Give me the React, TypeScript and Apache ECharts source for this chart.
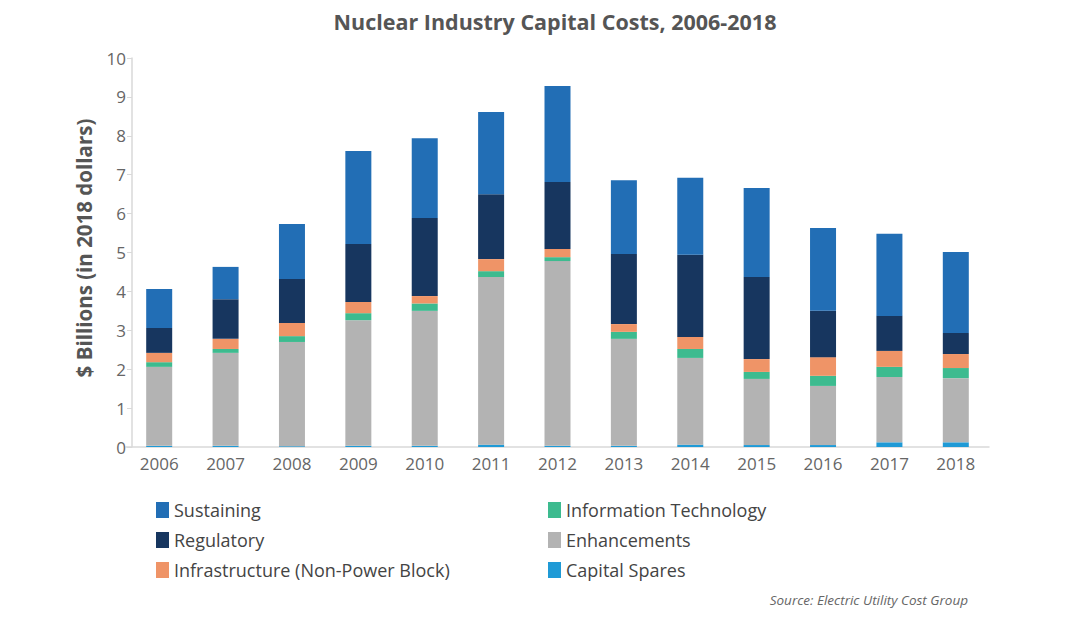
import React, { useEffect, useRef } from "react";
import * as echarts from "echarts";

const years = ["2006", "2007", "2008", "2009", "2010", "2011", "2012", "2013", "2014", "2015", "2016", "2017", "2018"];
const capitalSpares = [0.03, 0.03, 0.02, 0.03, 0.03, 0.06, 0.03, 0.03, 0.06, 0.05, 0.05, 0.12, 0.12];
const enhancements = [2.03, 2.39, 2.68, 3.23, 3.47, 4.31, 4.75, 2.75, 2.23, 1.70, 1.52, 1.68, 1.65];
const infoTech = [0.12, 0.10, 0.15, 0.18, 0.19, 0.15, 0.10, 0.18, 0.23, 0.18, 0.26, 0.26, 0.26];
const infrastructure = [0.24, 0.26, 0.34, 0.29, 0.19, 0.31, 0.21, 0.20, 0.31, 0.33, 0.48, 0.41, 0.36];
const regulatory = [0.64, 1.02, 1.13, 1.49, 2.01, 1.67, 1.72, 1.80, 2.11, 2.11, 1.19, 0.90, 0.54];
const sustaining = [1.00, 0.83, 1.41, 2.39, 2.05, 2.11, 2.47, 1.90, 1.98, 2.29, 2.13, 2.11, 2.08];

const FONT = "'Open Sans', sans-serif";

export default function App() {
  const ref = useRef<HTMLDivElement>(null);
  useEffect(() => {
    if (!ref.current) return;
    const chart = echarts.init(ref.current, null, { renderer: "svg" });
    const mk = (name: string, data: number[], color: string) => ({
      name,
      type: "bar",
      stack: "total",
      data,
      barWidth: 26,
      itemStyle: { color },
      emphasis: { disabled: true },
    });
    const legendText = { fontFamily: FONT, fontSize: 18, color: "#444" };
    chart.setOption({
      animation: false,
      backgroundColor: "#fff",
      textStyle: { fontFamily: FONT },
      title: {
        text: "Nuclear Industry Capital Costs, 2006-2018",
        left: 550,
        textAlign: "center",
        top: 5,
        textStyle: { fontFamily: FONT, fontSize: 21.5, fontWeight: "bold", color: "#555" },
      },
      grid: { left: 126, right: 91, top: 58, bottom: 193 },
      xAxis: {
        type: "category",
        data: years,
        axisLine: { lineStyle: { color: "#d9d9d9", width: 1.5 } },
        axisTick: { show: false },
        axisLabel: { fontFamily: FONT, fontSize: 17, color: "#666", margin: 8 },
      },
      yAxis: {
        type: "value",
        min: 0,
        max: 10,
        interval: 1,
        offset: -6,
        splitLine: { show: false },
        axisLine: { show: true, lineStyle: { color: "#d9d9d9", width: 1.5 } },
        axisTick: { show: true, length: 5, lineStyle: { color: "#d9d9d9" } },
        axisLabel: { fontFamily: FONT, fontSize: 17, color: "#666", margin: 6 },
      },
      legend: [
        {
          orient: "vertical",
          left: 151,
          top: 496,
          itemWidth: 13,
          itemHeight: 16,
          itemGap: 12,
          icon: "rect",
          textStyle: legendText,
          data: ["Sustaining", "Regulatory", "Infrastructure (Non-Power Block)"],
        },
        {
          orient: "vertical",
          left: 543,
          top: 496,
          itemWidth: 13,
          itemHeight: 16,
          itemGap: 12,
          icon: "rect",
          textStyle: legendText,
          data: ["Information Technology", "Enhancements", "Capital Spares"],
        },
      ],
      graphic: [
        {
          type: "text",
          x: 84,
          y: 248,
          rotation: Math.PI / 2,
          style: {
            text: "$ Billions (in 2018 dollars)",
            fontFamily: FONT,
            fontSize: 20.5,
            fontWeight: "bold",
            fill: "#555",
            align: "center",
            verticalAlign: "middle",
          },
        },
        {
          type: "text",
          x: 968,
          y: 600,
          style: {
            text: "Source: Electric Utility Cost Group",
            fontFamily: FONT,
            fontSize: 13.5,
            fontStyle: "italic",
            fill: "#666",
            align: "right",
            verticalAlign: "middle",
          },
        },
      ],
      series: [
        mk("Capital Spares", capitalSpares, "#1f9ad6"),
        mk("Enhancements", enhancements, "#b3b3b3"),
        mk("Information Technology", infoTech, "#3dbb8f"),
        mk("Infrastructure (Non-Power Block)", infrastructure, "#ef9467"),
        mk("Regulatory", regulatory, "#17365f"),
        mk("Sustaining", sustaining, "#226eb5"),
      ],
    });
    return () => chart.dispose();
  }, []);
  return <div ref={ref} style={{ width: 1080, height: 640, position: "absolute", left: 0, top: 0 }} />;
}
